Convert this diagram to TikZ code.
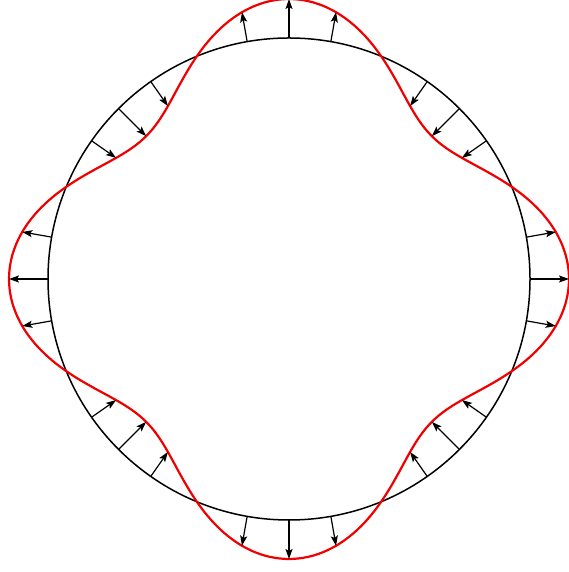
\documentclass[tikz,border=0pt]{standalone}
\usetikzlibrary{arrows.meta}

\tikzset{
  base/.style={line width=1.5pt, black},
  wave/.style={line width=2.2pt, color={rgb, 255:red, 240; green, 0; blue, 0}},
  disp/.style={line width=1.2pt, -{Stealth[length=10pt,width=7pt,inset=2pt]}},
}

\begin{document}
\begin{tikzpicture}[x=1pt,y=1pt]
\useasboundingbox (0,0) rectangle (568,572);

\begin{scope}[shift={(289,293)}]
% Reference circle
\draw [base] (0,0) circle (241);
% Deformed boundary
\draw [wave] plot [smooth cycle, domain=0:357.5, samples=144, variable=\t]
  ({(241+39*cos(4*\t))*cos(\t)}, {(241+39*cos(4*\t))*sin(\t)});
% Displacement arrows
\foreach \k in {0,45,...,315}{
  \foreach \d in {-10,0,10}{
    \pgfmathsetmacro{\ang}{\k+\d}
    \pgfmathsetmacro{\rr}{241+39*cos(4*\ang)}
    \coordinate (s) at (\ang:241);
    \coordinate (e) at (\ang:\rr);
    \draw [disp] (s) -- (e);
  }
}
\end{scope}

\end{tikzpicture}
\end{document}
